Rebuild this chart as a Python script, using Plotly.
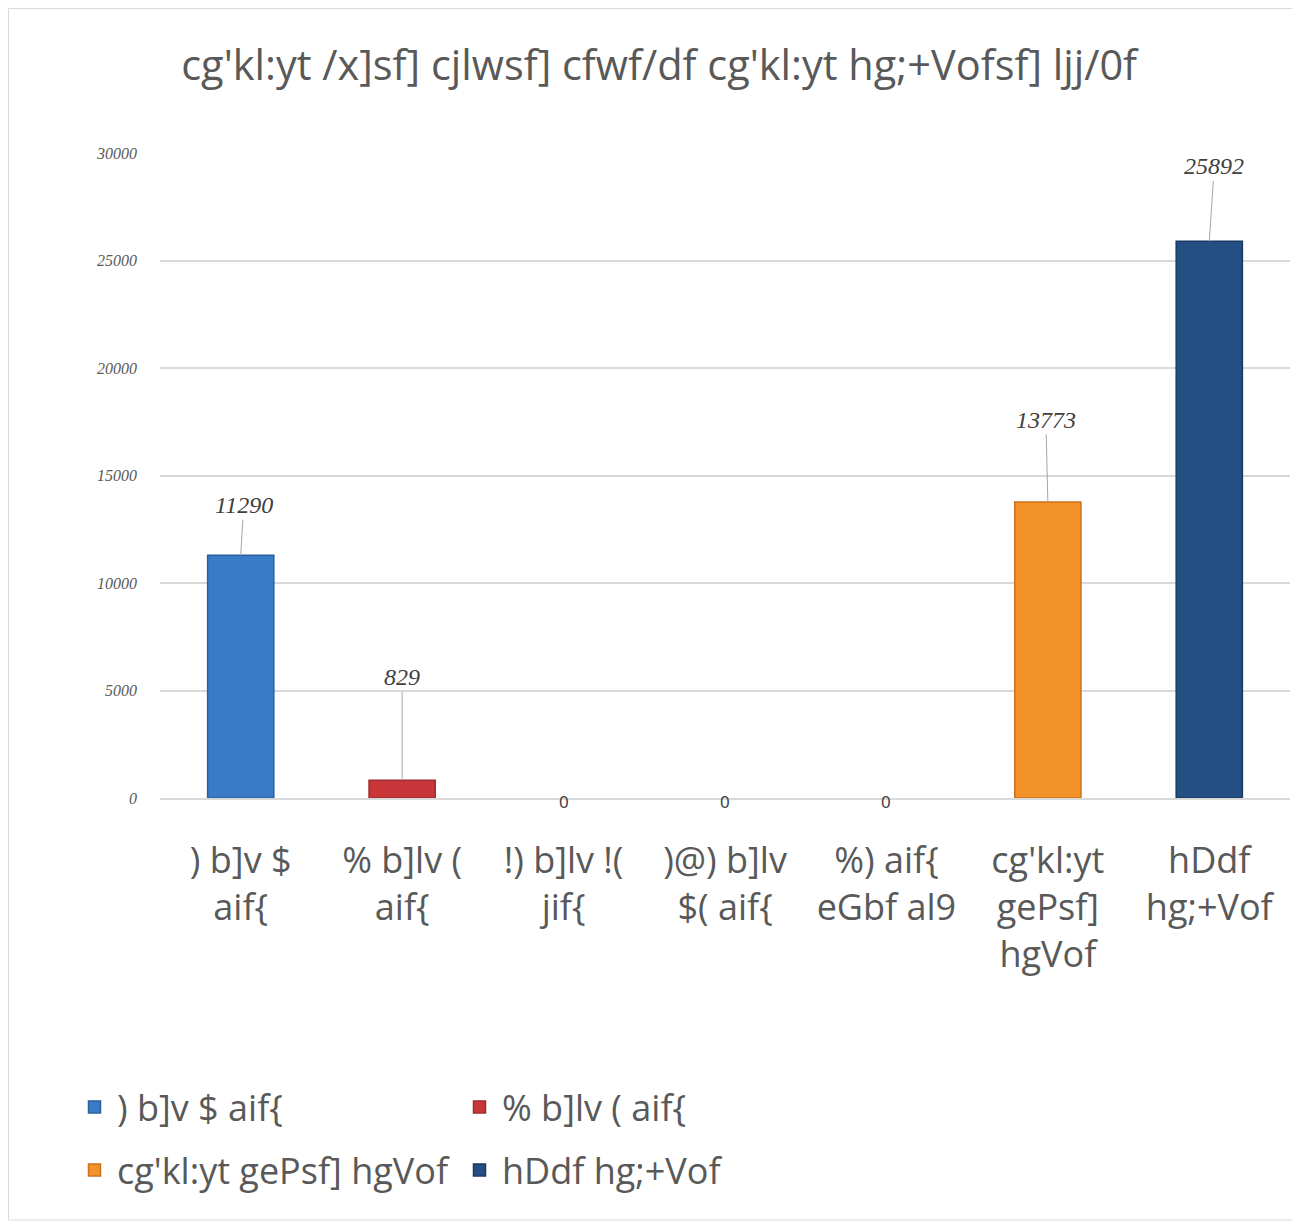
import plotly.graph_objects as go

categories = [") b]v $<br>aif{", "% b]lv (<br>aif{", "!) b]lv !(<br>jif{", ")@) b]lv<br>$( aif{",
              "%) aif{<br>eGbf al9", "cg'kl:yt<br>gePsf]<br>hgVof", "hDdf<br>hg;+Vof"]
legend_names = [") b]v $ aif{", "% b]lv ( aif{", "!) b]lv !( jif{", ")@) b]lv $( aif{",
                "%) aif{ eGbf al9", "cg'kl:yt gePsf] hgVof", "hDdf hg;+Vof"]
values = [11290, 829, 0, 0, 0, 13773, 25892]
colors = ["#3a7bc8", "#c9363a", "#7f7f7f", "#7f7f7f", "#7f7f7f", "#f4922a", "#244f82"]
outline = ["#2a5f9e", "#9e2a2d", "#7f7f7f", "#7f7f7f", "#7f7f7f", "#c8731c", "#183a62"]
in_legend = [True, True, False, False, False, True, True]
legend_ref = ["legend", "legend", None, None, None, "legend2", "legend2"]
label_offsets = [(3, -50), (0, -103), None, None, None, (-2, -82), (5, -75)]

title_text = "cg'kl:yt /x]sf] cjlwsf] cfwf/df cg'kl:yt hg;+Vofsf] ljj/0f"
yticks = [0, 5000, 10000, 15000, 20000, 25000, 30000]

W, H = 1292, 1216
L, R, T, B = 152, 10, 145, 426
PW, PH = W - L - R, H - T - B
zero_px = T + PH

fig = go.Figure()
for i, (c, v) in enumerate(zip(categories, values)):
    kw = dict(x=[c], y=[v], name=legend_names[i], width=0.41,
              marker=dict(color=colors[i], line=dict(color=outline[i], width=1.5 if v else 0)),
              showlegend=in_legend[i], hoverinfo="skip")
    if legend_ref[i]:
        kw["legend"] = legend_ref[i]
    fig.add_trace(go.Bar(**kw))

annotations = []
for i, (c, v) in enumerate(zip(categories, values)):
    if label_offsets[i] is None:
        annotations.append(dict(x=c, y=v, text=str(v), showarrow=False, yanchor="middle",
                                yshift=-3,
                                font=dict(family="Noto Sans", size=17, color="#404040")))
    else:
        ax, ay = label_offsets[i]
        annotations.append(dict(x=c, y=v, text=f"{v}", showarrow=True, arrowhead=0,
                                arrowwidth=1, arrowcolor="#a6a6a6", ax=ax, ay=ay,
                                font=dict(family="Liberation Serif", size=24, color="#404040",
                                          style="italic")))

legend_font = dict(family="Open Sans", size=36, color="#595959")
fig.update_layout(
    width=W, height=H,
    paper_bgcolor="white", plot_bgcolor="white",
    margin=dict(l=L, r=R, t=T, b=B),
    barmode="overlay",
    title=dict(text=title_text, x=0.504, xanchor="center", y=1 - 57 / H, yanchor="middle",
               font=dict(family="Open Sans", size=41.5, color="#595959")),
    annotations=annotations,
    legend=dict(orientation="h", x=(64 - L) / PW, xanchor="left",
                y=(zero_px - 1099) / PH, yanchor="middle", itemwidth=35,
                entrywidth=335, entrywidthmode="pixels", font=legend_font),
    legend2=dict(orientation="h", x=(64 - L) / PW, xanchor="left",
                 y=(zero_px - 1162) / PH, yanchor="middle", itemwidth=35,
                 entrywidth=335, entrywidthmode="pixels", font=legend_font),
    shapes=[dict(type="rect", xref="paper", yref="paper",
                 x0=(0.5 - L) / PW, x1=(1287 - L) / PW,
                 y0=(zero_px - 1212) / PH, y1=(zero_px - 0.5) / PH,
                 line=dict(color="#d9d9d9", width=1), layer="below")],
)
fig.update_yaxes(range=[0, 30000], tickvals=yticks, ticktext=[str(t) for t in yticks],
                 showgrid=True, gridcolor="#d9d9d9", gridwidth=1.5, zeroline=False,
                 showline=False, ticks="", ticklabelstandoff=22,
                 tickfont=dict(family="Liberation Serif", size=16, color="#595959", style="italic"))
fig.update_xaxes(type="category", showline=True, linecolor="#d9d9d9", linewidth=1.5,
                 ticks="", ticklabelstandoff=30,
                 tickfont=dict(family="Open Sans", size=36, color="#595959"))

fig.write_html("out.html")
